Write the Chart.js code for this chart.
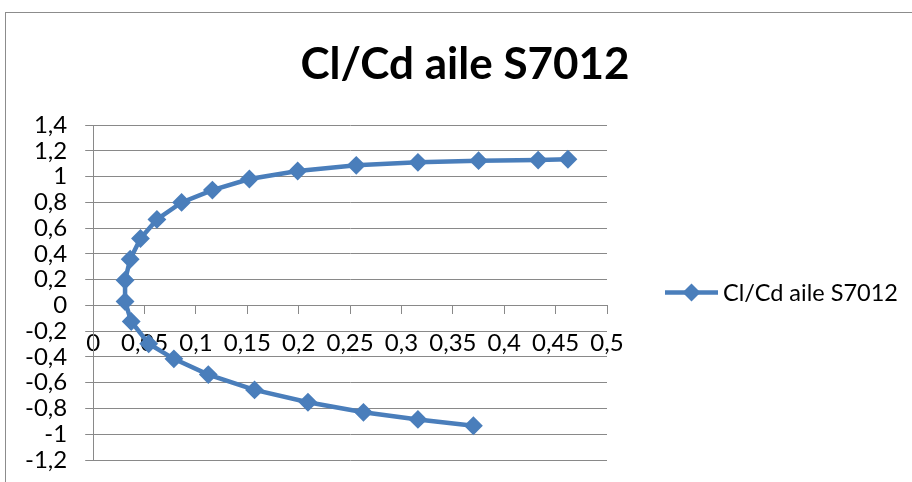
<!DOCTYPE html>
<html>
<head>
<meta charset="utf-8">
<script src="https://cdn.jsdelivr.net/npm/chart.js@4/dist/chart.umd.min.js"></script>
<style>
  html, body { margin: 0; padding: 0; background: #fff; overflow: hidden; }
  #wrap { position: relative; width: 912px; height: 482px; }
  #frame { position: absolute; left: 5px; top: 12px; width: 940px; height: 500px; border: 1px solid #8c8c8c; box-sizing: border-box; pointer-events: none; }
  canvas { position: absolute; left: 0; top: 0; }
</style>
</head>
<body>
<div id="wrap">
  <canvas id="c" width="912" height="482"></canvas>
  <div id="frame"></div>
</div>
<script>
const chartTitle = "Cl/Cd aile S7012";
const seriesName = "Cl/Cd aile S7012";
const cdValues = [0.370, 0.316, 0.263, 0.209, 0.157, 0.112, 0.0785, 0.054, 0.037, 0.031, 0.031, 0.036, 0.046, 0.062, 0.086, 0.116, 0.152, 0.199, 0.256, 0.316, 0.375, 0.433, 0.462];
const clValues = [-0.934, -0.885, -0.830, -0.752, -0.656, -0.537, -0.415, -0.298, -0.125, 0.030, 0.195, 0.358, 0.519, 0.667, 0.799, 0.895, 0.981, 1.043, 1.087, 1.110, 1.123, 1.128, 1.134];
const xTicks = [0, 0.05, 0.1, 0.15, 0.2, 0.25, 0.3, 0.35, 0.4, 0.45, 0.5];
const yTicks = [-1.2, -1, -0.8, -0.6, -0.4, -0.2, 0, 0.2, 0.4, 0.6, 0.8, 1, 1.2, 1.4];

const blue = '#4A7EBB';
const grey = '#898989';
const fmt = (v, d) => String(Math.round(v * d) / d).replace('.', ',');

const points = cdValues.map((x, i) => ({ x: x, y: clValues[i] }));

const decorations = {
  id: 'decorations',
  afterDraw(chart) {
    const { ctx, chartArea } = chart;
    const ds = chart.data.datasets[0];
    ctx.save();
    ctx.fillStyle = '#000';
    ctx.font = 'bold 44px Lato';
    ctx.textAlign = 'center';
    ctx.textBaseline = 'middle';
    ctx.fillText(chartTitle, 465, 65);
    const x0 = chartArea.right + 58;
    const y0 = (chartArea.top + chartArea.bottom) / 2;
    ctx.strokeStyle = ds.borderColor;
    ctx.lineWidth = 4.5;
    ctx.beginPath();
    ctx.moveTo(x0, y0);
    ctx.lineTo(x0 + 53, y0);
    ctx.stroke();
    const cx = x0 + 26.5, r = 9;
    ctx.fillStyle = ds.backgroundColor;
    ctx.beginPath();
    ctx.moveTo(cx, y0 - r); ctx.lineTo(cx + r, y0); ctx.lineTo(cx, y0 + r); ctx.lineTo(cx - r, y0);
    ctx.closePath();
    ctx.fill();
    ctx.fillStyle = '#000';
    ctx.font = '23.5px Lato';
    ctx.textBaseline = 'middle';
    ctx.textAlign = 'left';
    ctx.fillText(ds.label, x0 + 58, y0 + 1);
    ctx.restore();
  }
};

new Chart(document.getElementById('c'), {
  type: 'scatter',
  data: {
    datasets: [{
      label: seriesName,
      data: points,
      showLine: true,
      borderColor: blue,
      backgroundColor: blue,
      borderWidth: 4.5,
      tension: 0,
      pointStyle: 'rectRot',
      pointRadius: 8,
      pointBorderWidth: 2,
      pointBorderColor: blue,
      pointBackgroundColor: blue
    }]
  },
  options: {
    responsive: false,
    animation: false,
    layout: { padding: { left: 7, right: 305, top: 125, bottom: 22 } },
    plugins: {
      legend: { display: false },
      tooltip: { enabled: false },
      title: { display: false }
    },
    scales: {
      x: {
        type: 'linear',
        position: { y: 0 },
        min: 0,
        max: 0.5,
        afterBuildTicks: (axis) => { axis.ticks = xTicks.map(v => ({ value: v })); },
        afterFit: (axis) => { axis.height = 0; },
        ticks: {
          color: '#000',
          font: { family: 'Lato', size: 24 },
          padding: 15,
          maxRotation: 0,
          autoSkip: false,
          callback: (v) => fmt(v, 100)
        },
        grid: { drawOnChartArea: false, drawTicks: true, tickLength: 8, color: grey, lineWidth: 1 },
        border: { display: true, color: grey, width: 1 }
      },
      y: {
        type: 'linear',
        min: -1.2,
        max: 1.4,
        afterBuildTicks: (axis) => { axis.ticks = yTicks.map(v => ({ value: v })); },
        afterFit: (axis) => { axis.paddingTop = 0; axis.paddingBottom = 0; },
        ticks: {
          color: '#000',
          font: { family: 'Lato', size: 24 },
          padding: 18,
          autoSkip: false,
          callback: (v) => fmt(v, 10)
        },
        grid: { color: grey, lineWidth: 1, tickLength: 8, drawTicks: true },
        border: { display: true, color: grey, width: 1 }
      }
    }
  },
  plugins: [decorations]
});
</script>
</body>
</html>
